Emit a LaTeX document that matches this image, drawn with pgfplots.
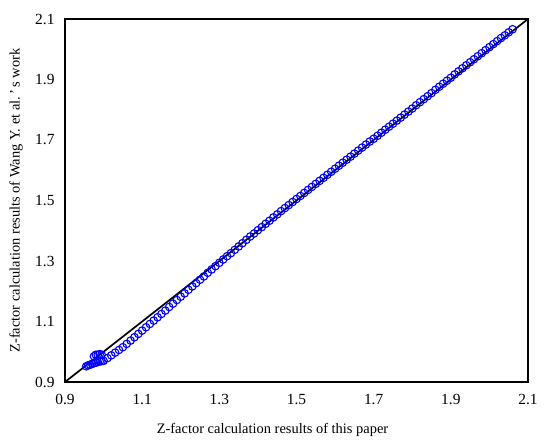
\documentclass[border=0pt]{standalone}
\usepackage{pgfplots}
\pgfplotsset{compat=1.18}
\usepackage{fontspec}
\setmainfont{Liberation Serif}
\begin{document}
\begin{tikzpicture}
\begin{axis}[
  scale only axis,
  width=463bp, height=363bp,
  xmin=0.9, xmax=2.1, ymin=0.9, ymax=2.1,
  xtick={0.9,1.1,1.3,1.5,1.7,1.9,2.1},
  ytick={0.9,1.1,1.3,1.5,1.7,1.9,2.1},
  xticklabels={0.9,1.1,1.3,1.5,1.7,1.9,2.1},
  yticklabels={0.9,1.1,1.3,1.5,1.7,1.9,2.1},
  major tick length=0pt,
  axis line style={black, line width=1.3pt},
  tick label style={font=\fontsize{15.5}{18}\selectfont},
  xticklabel style={yshift=-9bp},
  yticklabel style={xshift=-7bp},
  xlabel={Z-factor calculation results of this paper},
  ylabel={Z-factor calculation results of Wang Y. et al.\,'\,s work},
  label style={font=\fontsize{14.5}{17}\selectfont},
  xlabel style={at={(axis description cs:0.5,0)}, anchor=center, yshift=-48bp, xshift=-24bp},
  ylabel style={at={(axis description cs:0,0.5)}, anchor=center, rotate=0, yshift=49bp},
  clip=false,
]
\addplot[black, line width=1.7pt] coordinates {(0.9,0.9) (2.1,2.1)};
\addplot[only marks, mark=o, mark size=3.8pt, blue, mark options={line width=1.1pt}] table {
x y
0.955 0.952
0.960 0.955
0.965 0.957
0.970 0.960
0.975 0.962
0.980 0.964
0.985 0.966
0.990 0.968
0.995 0.969
0.975 0.985
0.980 0.990
0.985 0.990
0.990 0.992
0.995 0.990
1.00 0.970
1.01 0.979
1.02 0.988
1.03 0.997
1.04 1.006
1.05 1.015
1.06 1.026
1.07 1.037
1.08 1.048
1.09 1.059
1.10 1.070
1.11 1.081
1.12 1.092
1.13 1.103
1.14 1.114
1.15 1.125
1.16 1.136
1.17 1.148
1.18 1.159
1.19 1.171
1.20 1.182
1.21 1.193
1.22 1.205
1.23 1.216
1.24 1.227
1.25 1.238
1.26 1.249
1.27 1.261
1.28 1.272
1.29 1.283
1.30 1.294
1.31 1.305
1.32 1.316
1.33 1.326
1.34 1.337
1.35 1.348
1.36 1.359
1.37 1.370
1.38 1.381
1.39 1.391
1.40 1.402
1.41 1.412
1.42 1.423
1.43 1.433
1.44 1.444
1.45 1.454
1.46 1.465
1.47 1.475
1.48 1.485
1.49 1.495
1.50 1.505
1.51 1.515
1.52 1.525
1.53 1.535
1.54 1.545
1.55 1.555
1.56 1.565
1.57 1.575
1.58 1.585
1.59 1.595
1.60 1.605
1.61 1.615
1.62 1.625
1.63 1.635
1.64 1.645
1.65 1.655
1.66 1.665
1.67 1.675
1.68 1.685
1.69 1.695
1.70 1.704
1.71 1.714
1.72 1.724
1.73 1.734
1.74 1.744
1.75 1.754
1.76 1.764
1.77 1.774
1.78 1.784
1.79 1.794
1.80 1.804
1.81 1.815
1.82 1.825
1.83 1.835
1.84 1.845
1.85 1.855
1.86 1.866
1.87 1.876
1.88 1.886
1.89 1.896
1.90 1.906
1.91 1.917
1.92 1.927
1.93 1.937
1.94 1.947
1.95 1.957
1.96 1.967
1.97 1.977
1.98 1.987
1.99 1.997
2.00 2.007
2.01 2.017
2.02 2.027
2.03 2.037
2.04 2.046
2.05 2.056
2.06 2.066
};
\end{axis}
\path (current axis.south west) ++(-65bp,-60bp) (current axis.north east) ++(22bp,19bp);
\end{tikzpicture}
\end{document}
